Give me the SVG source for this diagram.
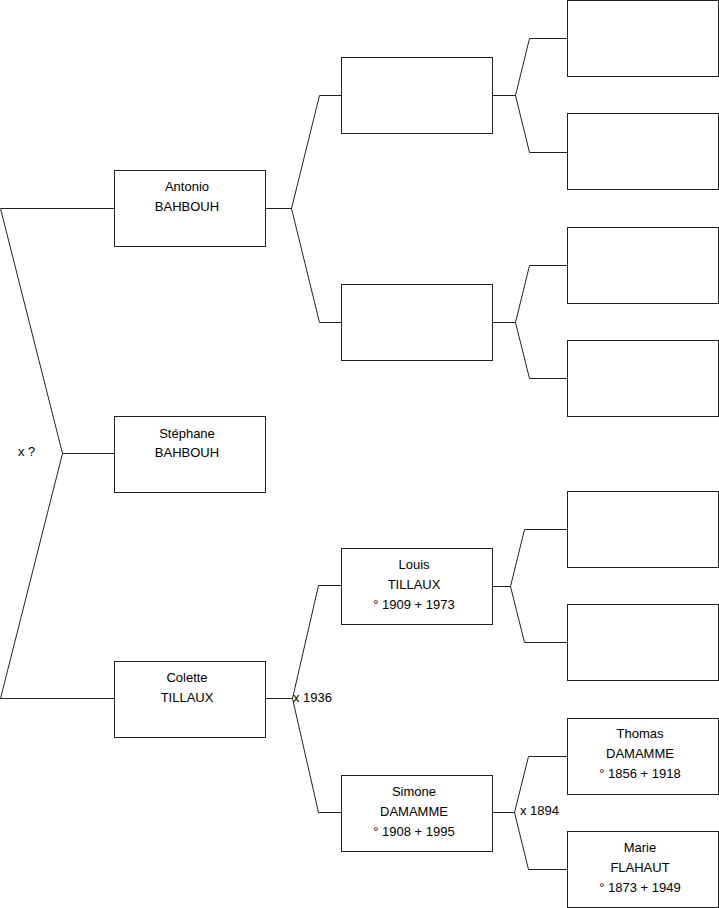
<svg xmlns="http://www.w3.org/2000/svg" width="719" height="908" viewBox="0 0 719 908">
<style>
.box{fill:#fff;stroke:#222;stroke-width:1}
.ln{fill:none;stroke:#222;stroke-width:1}
text{font-family:"Liberation Sans",Arial,sans-serif;font-size:13px;fill:#000}
.c{text-anchor:middle}
</style>
<rect width="719" height="908" fill="#fff"/>
<g id="connectors">
<polyline class="ln" points="114,208.5 0.5,208.5 62.5,453.5 0.5,698.5 114,698.5"/>
<line class="ln" x1="62.5" y1="453.5" x2="114" y2="453.5"/>
<polyline class="ln" points="341,95.5 319.5,95.5 291.5,208.5 319.5,322.5 341,322.5"/>
<line class="ln" x1="265" y1="208.5" x2="291.5" y2="208.5"/>
<polyline class="ln" points="567,38.5 529.5,38.5 515.5,95.5 529.5,152.5 567,152.5"/>
<line class="ln" x1="492" y1="95.5" x2="515.5" y2="95.5"/>
<polyline class="ln" points="567,265.5 529.5,265.5 515.5,322.5 529.5,378.5 567,378.5"/>
<line class="ln" x1="492" y1="322.5" x2="515.5" y2="322.5"/>
<polyline class="ln" points="341,585.5 318.5,585.5 292.5,698.5 318.5,812.5 341,812.5"/>
<line class="ln" x1="265" y1="698.5" x2="292.5" y2="698.5"/>
<polyline class="ln" points="567,529.5 524.5,529.5 510.5,586.5 524.5,642.5 567,642.5"/>
<line class="ln" x1="492" y1="586.5" x2="510.5" y2="586.5"/>
<polyline class="ln" points="567,756.5 528.5,756.5 514.5,812.5 528.5,869.5 567,869.5"/>
<line class="ln" x1="492" y1="812.5" x2="514.5" y2="812.5"/>
<text x="18" y="456">x ?</text>
<text x="293" y="702">x 1936</text>
<text x="520" y="815">x 1894</text>
</g>
<g id="antonio"><rect class="box" x="114.5" y="170.5" width="151" height="76"/><text class="c" x="187" y="191">Antonio</text><text class="c" x="187" y="211">BAHBOUH</text></g>
<g id="stephane"><rect class="box" x="114.5" y="416.5" width="151" height="76"/><text class="c" x="187" y="438">Stéphane</text><text class="c" x="187" y="457">BAHBOUH</text></g>
<g id="colette"><rect class="box" x="114.5" y="661.5" width="151" height="76"/><text class="c" x="187" y="682">Colette</text><text class="c" x="187" y="702">TILLAUX</text></g>
<g id="p1"><rect class="box" x="341.5" y="57.5" width="151" height="76"/></g>
<g id="p2"><rect class="box" x="341.5" y="284.5" width="151" height="76"/></g>
<g id="louis"><rect class="box" x="341.5" y="548.5" width="151" height="76"/><text class="c" x="414" y="569">Louis</text><text class="c" x="414" y="589">TILLAUX</text><text class="c" x="414" y="609">° 1909 + 1973</text></g>
<g id="simone"><rect class="box" x="341.5" y="775.5" width="151" height="76"/><text class="c" x="414" y="796">Simone</text><text class="c" x="414" y="816">DAMAMME</text><text class="c" x="414" y="836">° 1908 + 1995</text></g>
<g id="g1"><rect class="box" x="567.5" y="0.5" width="151" height="76"/></g>
<g id="g2"><rect class="box" x="567.5" y="113.5" width="151" height="76"/></g>
<g id="g3"><rect class="box" x="567.5" y="227.5" width="151" height="76"/></g>
<g id="g4"><rect class="box" x="567.5" y="340.5" width="151" height="76"/></g>
<g id="g5"><rect class="box" x="567.5" y="491.5" width="151" height="76"/></g>
<g id="g6"><rect class="box" x="567.5" y="604.5" width="151" height="76"/></g>
<g id="thomas"><rect class="box" x="567.5" y="718.5" width="151" height="76"/><text class="c" x="640" y="738">Thomas</text><text class="c" x="640" y="758">DAMAMME</text><text class="c" x="640" y="778">° 1856 + 1918</text></g>
<g id="marie"><rect class="box" x="567.5" y="831.5" width="151" height="76"/><text class="c" x="640" y="852">Marie</text><text class="c" x="640" y="872">FLAHAUT</text><text class="c" x="640" y="892">° 1873 + 1949</text></g>
</svg>
